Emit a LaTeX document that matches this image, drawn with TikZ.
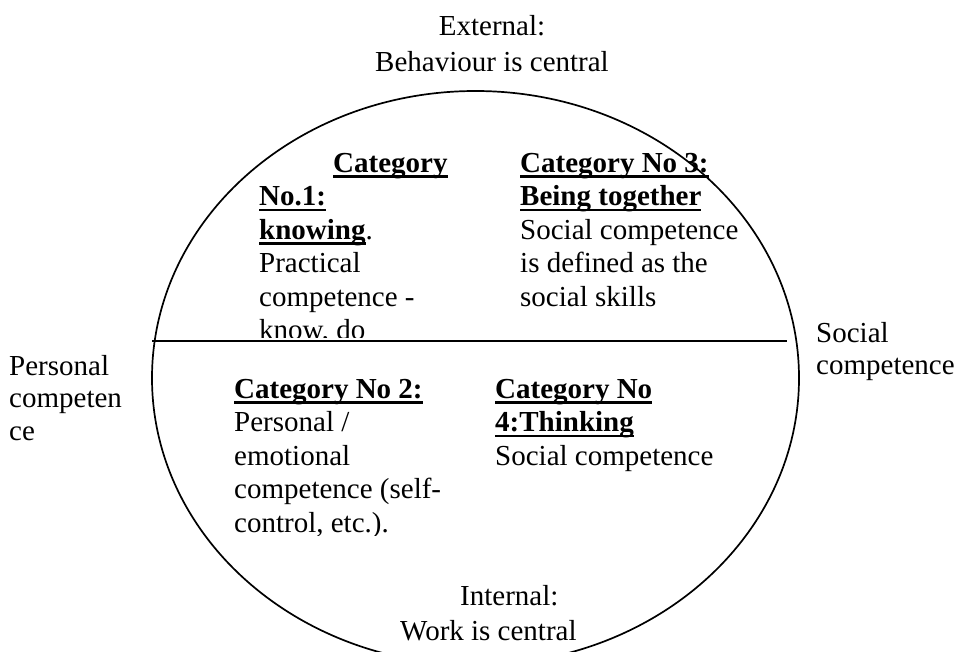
\documentclass[tikz,border=0pt]{standalone}
\usepackage{fontspec}
\setmainfont{Liberation Serif}
% bold heading with a heavy underline
\newcommand\hdul[1]{\setbox0=\hbox{\bfseries #1}\rlap{\rule[-5.5pt]{\wd0}{2.3pt}}\box0}
\begin{document}
\begin{tikzpicture}[x=1pt,y=-1pt,
  lbl/.style={inner sep=0pt, anchor=base west, align=left,
    font=\fontsize{29}{33.5}\selectfont},
  rim/.style={line width=1.7pt}]
\useasboundingbox (0,0) rectangle (957,652);
\clip (0,0) rectangle (957,652);

% outer ellipse and the dividing line
\draw[rim] (475.5,378) ellipse [x radius=323.5pt, y radius=287pt];
\coordinate (divL) at (152,341);
\coordinate (divR) at (787,341);
\draw[line width=1.5pt] (divL) -- (divR);

% axis labels (multi-line nodes sit on the baseline of their last line)
\node[lbl, anchor=base, align=center, font=\fontsize{29}{36}\selectfont]
  (ext) at (492,72) {External:\\Behaviour is central};
\node[lbl] (int1) at (460,605) {Internal:};
\node[lbl] (int2) at (400,640) {Work is central};
\node[lbl, font=\fontsize{29}{32.5}\selectfont] (pers) at (9,440) {Personal\\competen\\ce};
\node[lbl, font=\fontsize{29}{32}\selectfont] (soc) at (816,374) {Social\\competence};

% quadrant texts (boxes cut off at their lower edge)
\begin{scope}
  \clip (240,140) rectangle (480,337.5);
  \node[lbl] (cat1) at (259,339.5)
    {\hspace*{74pt}\hdul{Category}\\\hdul{No.1:}\\\hdul{knowing}.\\Practical\\competence -\\know, do};
\end{scope}
\node[lbl] (cat3) at (520,306)
  {\hdul{Category No 3:}\\\hdul{Being together}\\Social competence\\is defined as the\\social skills};
\begin{scope}
  \clip (220,360) rectangle (480,535.5);
  \node[lbl] (cat2) at (234,532)
    {\hdul{Category No 2:}\\Personal /\\emotional\\competence (self-\\control, etc.).};
\end{scope}
\node[lbl] (cat4) at (495,465)
  {\hdul{Category No}\\\hdul{4:Thinking}\\Social competence};
\end{tikzpicture}
\end{document}
